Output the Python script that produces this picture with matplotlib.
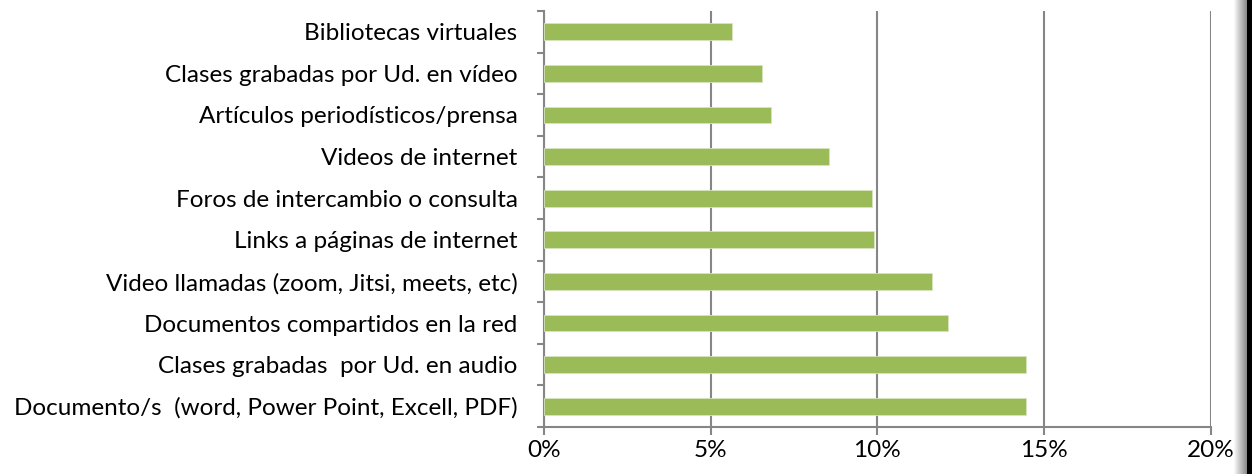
import matplotlib.pyplot as plt
import numpy as np
from matplotlib.ticker import FixedLocator, PercentFormatter

plt.rcParams['font.family'] = ['Lato', 'DejaVu Sans']

# categorias (de abajo hacia arriba) y porcentajes
categorias = [
    'Documento/s  (word, Power Point, Excell, PDF)',
    'Clases grabadas  por Ud. en audio',
    'Documentos compartidos en la red',
    'Video llamadas (zoom, Jitsi, meets, etc)',
    'Links a páginas de internet',
    'Foros de intercambio o consulta',
    'Videos de internet',
    'Artículos periodísticos/prensa',
    'Clases grabadas por Ud. en vídeo',
    'Bibliotecas virtuales',
]
porcentajes = [14.47, 14.47, 12.13, 11.64, 9.89, 9.83, 8.55, 6.81, 6.53, 5.63]
ticks_x = [0, 5, 10, 15, 20]

GRIS = '#868686'
VERDE = '#9BBB59'

fig = plt.figure(figsize=(12.52, 4.74), dpi=100)
fig.patch.set_facecolor('white')
ax = fig.add_axes([0.4345, 0.099, 0.9671 - 0.4345, 0.977 - 0.099])

y = np.arange(len(categorias))
ax.barh(y, porcentajes, height=0.4, color=VERDE, edgecolor='#d7e4bd', linewidth=0.6, zorder=3)

ax.set_xlim(0, 20)
ax.set_ylim(-0.5, len(categorias) - 0.5)
ax.xaxis.set_major_locator(FixedLocator(ticks_x))
ax.xaxis.set_major_formatter(PercentFormatter(decimals=0))
ax.grid(axis='x', color=GRIS, linewidth=1.5, zorder=1)
ax.set_axisbelow(True)

ax.set_yticks(y)
ax.set_yticklabels(categorias)
ax.set_yticks(np.arange(-0.5, len(categorias)), minor=True)
ax.tick_params(axis='y', which='major', length=0, pad=19, labelsize=17.5)
ax.tick_params(axis='y', which='minor', length=5, width=1.5, color=GRIS, direction='out')
ax.tick_params(axis='x', which='major', length=6, width=1.5, color=GRIS, pad=3, labelsize=17.5)

for s in ['top', 'right']:
    ax.spines[s].set_visible(False)
for s in ['left', 'bottom']:
    ax.spines[s].set_color(GRIS)
    ax.spines[s].set_linewidth(1.5)

# sombra del borde derecho
sombra = fig.add_axes([1233 / 1252, 0, 19 / 1252, 1])
grad = np.linspace(1.0, 0.55, 14)
grad = np.concatenate([grad, np.zeros(5)])
sombra.imshow(grad[np.newaxis, :], cmap='gray', vmin=0, vmax=1, aspect='auto',
              extent=[0, 1, 0, 1])
sombra.axis('off')

fig.savefig('out.png', dpi=100, facecolor='white')
